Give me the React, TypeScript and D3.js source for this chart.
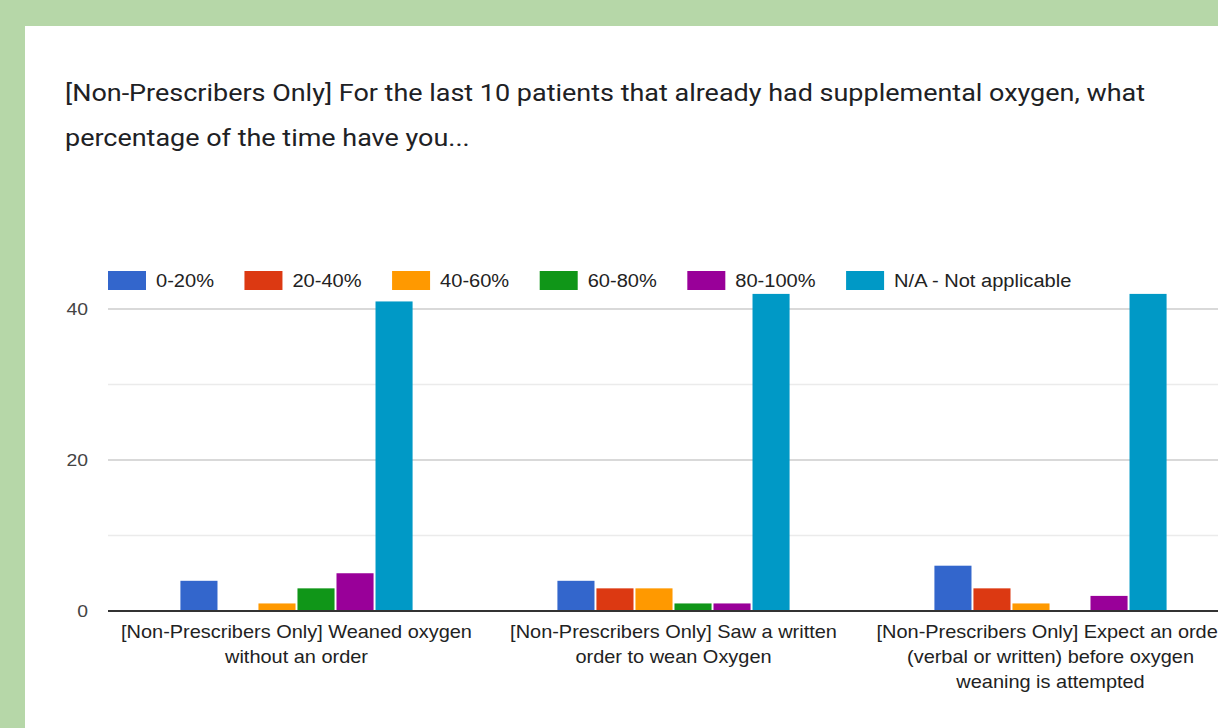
import React, { useEffect, useRef } from "react";
import * as d3 from "d3";

const titleLines = [
  "[Non-Prescribers Only] For the last 10 patients that already had supplemental oxygen, what",
  "percentage of the time have you...",
];
const categories = ["g1", "g2", "g3"];
const categoryLabels = [
  ["[Non-Prescribers Only] Weaned oxygen", "without an order"],
  ["[Non-Prescribers Only] Saw a written", "order to wean Oxygen"],
  ["[Non-Prescribers Only] Expect an order", "(verbal or written) before oxygen", "weaning is attempted"],
];
const seriesNames = ["0-20%", "20-40%", "40-60%", "60-80%", "80-100%", "N/A - Not applicable"];
const seriesColors = ["#3366cc", "#dc3912", "#ff9900", "#109618", "#990099", "#0099c6"];
const s0to20 = [4, 4, 6];
const s20to40 = [0, 3, 3];
const s40to60 = [1, 3, 1];
const s60to80 = [3, 1, 0];
const s80to100 = [5, 1, 2];
const sNA = [41, 42, 42];
const seriesValues = [s0to20, s20to40, s40to60, s60to80, s80to100, sNA];
const majorTicks = [0, 20, 40];
const minorTicks = [10, 30];

const W = 1218;
const H = 728;
const SX = 1.14; // horizontal stretch of the source screenshot

export default function App() {
  const ref = useRef<SVGSVGElement | null>(null);

  useEffect(() => {
    const svg = d3.select(ref.current);
    svg.selectAll("*").remove();

    const addText = (
      parent: any,
      x: number,
      y: number,
      str: string,
      size: number,
      family: string,
      fill: string,
      anchor: string = "start",
      sx: number = SX
    ) =>
      parent
        .append("text")
        .attr("transform", `translate(${x},${y}) scale(${sx},1)`)
        .attr("text-anchor", anchor)
        .attr("font-family", family)
        .attr("font-size", size)
        .attr("fill", fill)
        .text(str);

    svg.append("rect").attr("width", W).attr("height", H).attr("fill", "#b6d7a8");
    svg.append("rect").attr("x", 25).attr("y", 26).attr("width", W).attr("height", H).attr("fill", "#ffffff");

    titleLines.forEach((t, i) => {
      addText(svg, 65, 101 + i * 45, t, 23.5, "Roboto, 'Noto Sans', sans-serif", "#202124", "start", 1.148);
    });

    const left = 108;
    const step = 377;
    const x0 = d3
      .scaleBand<string>()
      .domain(categories)
      .range([left, left + step * categories.length])
      .paddingInner(0.379)
      .paddingOuter(0.1895);
    const x1 = d3
      .scaleBand<string>()
      .domain(seriesNames)
      .range([0, x0.bandwidth()])
      .paddingInner(0.05)
      .paddingOuter(0.025);
    const y = d3.scaleLinear().domain([0, 40]).range([611, 309]);

    const font = "'Liberation Sans', Arial, sans-serif";

    svg
      .append("g")
      .selectAll("line")
      .data(minorTicks)
      .join("line")
      .attr("x1", left)
      .attr("x2", W)
      .attr("y1", (d) => y(d))
      .attr("y2", (d) => y(d))
      .attr("stroke", "#ebebeb")
      .attr("stroke-width", 1.5);
    svg
      .append("g")
      .selectAll("line")
      .data(majorTicks.filter((d) => d !== 0))
      .join("line")
      .attr("x1", left)
      .attr("x2", W)
      .attr("y1", (d) => y(d))
      .attr("y2", (d) => y(d))
      .attr("stroke", "#cccccc")
      .attr("stroke-width", 1.5);

    const yl = svg.append("g");
    majorTicks.forEach((d) => {
      addText(yl, 88, y(d) + 6, String(d), 17, font, "#444444", "end");
    });

    const groups = svg
      .append("g")
      .selectAll("g")
      .data(categories)
      .join("g")
      .attr("transform", (c) => `translate(${x0(c)},0)`);
    groups
      .selectAll("rect")
      .data((c) => seriesNames.map((s, si) => ({ s, si, v: seriesValues[si][categories.indexOf(c)] })))
      .join("rect")
      .attr("x", (d) => x1(d.s) as number)
      .attr("width", x1.bandwidth())
      .attr("y", (d) => y(d.v))
      .attr("height", (d) => y(0) - y(d.v))
      .attr("fill", (d) => seriesColors[d.si]);

    svg
      .append("line")
      .attr("x1", left)
      .attr("x2", W)
      .attr("y1", y(0))
      .attr("y2", y(0))
      .attr("stroke", "#333333")
      .attr("stroke-width", 2);

    const xl = svg.append("g");
    categories.forEach((c, ci) => {
      const cx = (x0(c) as number) + x0.bandwidth() / 2;
      categoryLabels[ci].forEach((line, li) => {
        addText(xl, cx, 638 + li * 25, line, 17.5, font, "#222222", "middle");
      });
    });

    const legend = svg.append("g");
    let lx = left;
    seriesNames.forEach((name, i) => {
      legend
        .append("rect")
        .attr("x", lx)
        .attr("y", 271)
        .attr("width", 38)
        .attr("height", 19)
        .attr("fill", seriesColors[i]);
      const t = addText(legend, lx + 48, 287, name, 17.6, font, "#222222");
      const w = (t.node() as SVGTextElement).getComputedTextLength() * SX;
      lx = lx + 48 + w + 30.5;
    });
  }, []);

  return (
    <svg
      ref={ref}
      width={W}
      height={H}
      style={{ position: "absolute", left: 0, top: 0, display: "block" }}
    />
  );
}
